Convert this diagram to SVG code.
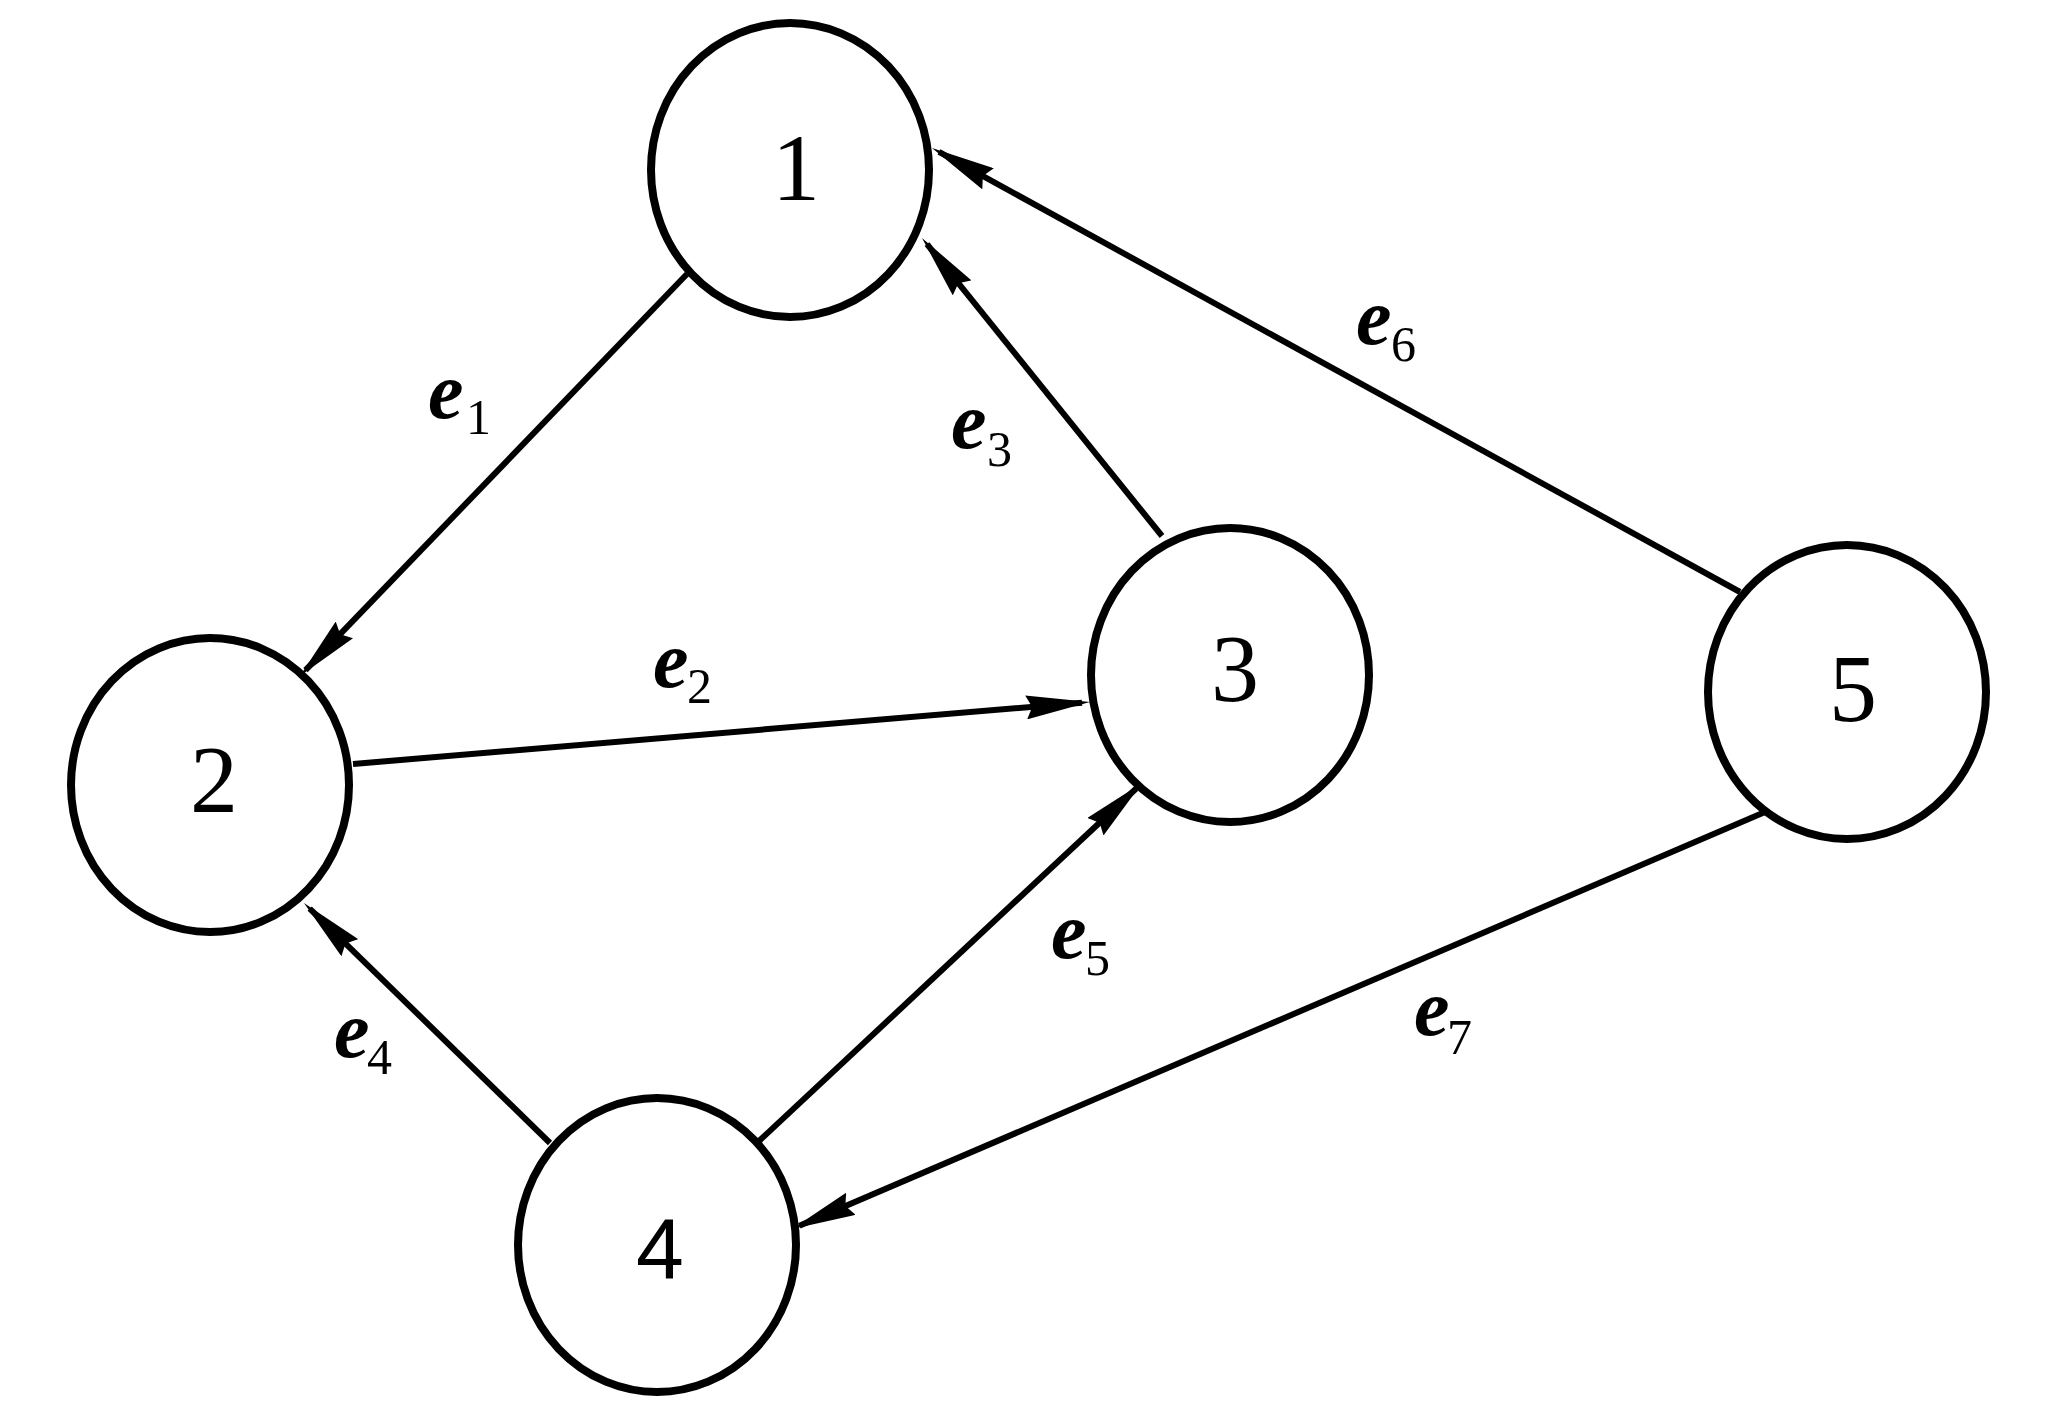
<svg xmlns="http://www.w3.org/2000/svg" width="2048" height="1417" viewBox="0 0 2048 1417">
<style>
.node{fill:#fff;stroke:#000;stroke-width:8}
.num{font-family:"Liberation Serif","Times New Roman",serif;font-size:96px;text-anchor:middle;fill:#000}
.num4{font-family:"Liberation Sans",Arial,sans-serif;font-size:86px;text-anchor:middle;fill:#000}
.edge{stroke:#000;stroke-width:6;fill:none;marker-end:url(#arr)}
.e{font-family:"Liberation Serif","Times New Roman",serif;font-style:italic;font-weight:bold;font-size:80px;fill:#000}
.sub{font-family:"Liberation Serif","Times New Roman",serif;font-size:50px;fill:#000}
</style>
<defs>
<marker id="arr" viewBox="0 0 64 24" refX="56" refY="12" markerWidth="64" markerHeight="24" markerUnits="userSpaceOnUse" orient="auto">
<path d="M0,0 L64,12 L0,24 L6,12 z" fill="#000"/>
</marker>
</defs>
<rect width="2048" height="1417" fill="#fff"/>
<g id="connectors">
<line id="e1" class="edge" x1="687" y1="274" x2="305.5" y2="670.2"/>
<line id="e2" class="edge" x1="353" y1="764" x2="1082" y2="702.7"/>
<line id="e3" class="edge" x1="1162" y1="536" x2="927" y2="244.2"/>
<line id="e4" class="edge" x1="550" y1="1143" x2="309.7" y2="908.6"/>
<line id="e5" class="edge" x1="758" y1="1142" x2="1136.2" y2="788.5"/>
<line id="e6" class="edge" x1="1740" y1="592" x2="939" y2="151.9"/>
<line id="e7" class="edge" x1="1765" y1="812" x2="799.4" y2="1225.8"/>
</g>
<g id="node1"><ellipse class="node" cx="790" cy="170" rx="139" ry="147"/><text class="num" x="796" y="200">1</text></g>
<g id="node2"><ellipse class="node" cx="210" cy="785" rx="139" ry="147"/><text class="num" x="214" y="812">2</text></g>
<g id="node3"><ellipse class="node" cx="1230" cy="675" rx="139" ry="147"/><text class="num" x="1235" y="701">3</text></g>
<g id="node4"><ellipse class="node" cx="657" cy="1245" rx="139" ry="147"/><text class="num4" x="660" y="1278">4</text></g>
<g id="node5"><ellipse class="node" cx="1847" cy="692" rx="139" ry="147"/><text class="num" x="1853" y="721">5</text></g>
<g id="labels">
<text class="e" x="428" y="418">e</text><text class="sub" x="466" y="434">1</text>
<text class="e" x="653" y="687">e</text><text class="sub" x="687" y="703">2</text>
<text class="e" x="951" y="448">e</text><text class="sub" x="987" y="466">3</text>
<text class="e" x="334" y="1057">e</text><text class="sub" x="367" y="1074">4</text>
<text class="e" x="1051" y="958">e</text><text class="sub" x="1085" y="975">5</text>
<text class="e" x="1356" y="344">e</text><text class="sub" x="1391" y="361">6</text>
<text class="e" x="1414" y="1035">e</text><text class="sub" x="1447" y="1054">7</text>
</g>
</svg>
